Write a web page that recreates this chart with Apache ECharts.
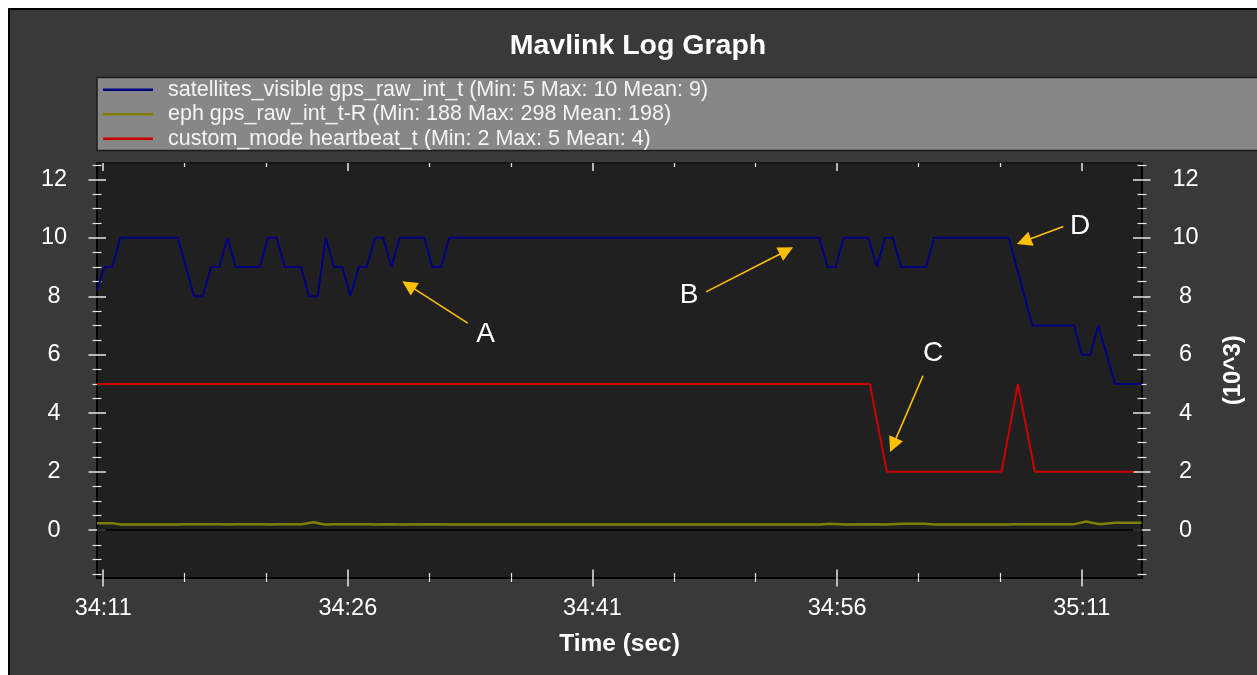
<!DOCTYPE html>
<html><head><meta charset="utf-8">
<script src="https://cdn.jsdelivr.net/npm/echarts@6/dist/echarts.min.js"></script>
<style>html,body{margin:0;padding:0;background:#fff;}#c{width:1257px;height:675px;}</style>
</head><body><div id="c"></div>
<script>
// ---------- data ----------
const chartTitle = 'Mavlink Log Graph';
const startClock = 34 * 60 + 11;            // 34:11, x = seconds after this
const xMajorTicks = [0, 15, 30, 45, 60];
const xMinorTicks = [5, 10, 20, 25, 35, 40, 50, 55];
const yMajorTicks = [0, 2, 4, 6, 8, 10, 12];
const yMinorTicks = [-1.5, -1, -0.5, 0.5, 1, 1.5, 2.5, 3, 3.5, 4.5, 5, 5.5, 6.5, 7, 7.5, 8.5, 9, 9.5, 10.5, 11, 11.5, 12.5];
const ephTicks = [0, 2000, 4000, 6000, 8000, 10000, 12000];

const seriesNames = [
  'satellites_visible gps_raw_int_t (Min: 5 Max: 10 Mean: 9)',
  'eph gps_raw_int_t-R (Min: 188 Max: 298 Mean: 198)',
  'custom_mode heartbeat_t (Min: 2 Max: 5 Mean: 4)'
];

const satTime = [-0.38, 0.07, 0.56, 1.05, 4.57, 5.57, 6.10, 6.61, 7.12, 7.63, 8.12, 9.61, 10.10, 10.64, 11.13, 12.13, 12.62, 13.15, 13.64, 14.15, 14.66, 15.15, 15.68, 16.15, 16.66, 17.17, 17.66, 18.18, 19.69, 20.18, 20.71, 21.22, 43.91, 44.40, 44.90, 45.40, 46.91, 47.44, 47.93, 48.42, 48.91, 50.45, 50.94, 55.52, 56.97, 59.52, 60.01, 60.52, 61.01, 62.04, 63.67];
const satValue = [8.2, 9, 9, 10, 10, 8, 8, 9, 9, 10, 9, 9, 10, 10, 9, 9, 8, 8, 10, 9, 9, 8, 9, 9, 10, 10, 9, 10, 10, 9, 9, 10, 10, 9, 9, 10, 10, 9, 10, 10, 9, 9, 10, 10, 7, 7, 6, 6, 7, 5, 5];

const ephTime = [-0.38, 0.56, 1.06, 4.62, 5.10, 7.09, 7.68, 8.14, 9.60, 10.21, 11.08, 12.18, 12.88, 13.59, 14.18, 16.13, 16.71, 17.52, 18.23, 20.34, 21.21, 43.98, 44.57, 45.41, 47.31, 48.02, 48.97, 50.40, 50.99, 55.51, 55.99, 59.55, 60.26, 61.09, 62.01, 63.66];
const ephValue = [240, 240, 190, 190, 205, 205, 190, 205, 205, 190, 205, 205, 270, 190, 205, 205, 190, 200, 190, 205, 190, 190, 215, 190, 205, 190, 215, 215, 190, 190, 205, 205, 298, 205, 250, 250];

const modeTime = [-0.38, 47.01, 48.04, 55.08, 56.08, 57.12, 63.18];
const modeValue = [5, 5, 2, 2, 5, 2, 2];

const annoLabels = ['A', 'B', 'C', 'D'];
const annoTextAt = [[23.45, 6.70], [35.92, 8.02], [50.88, 6.06], [59.89, 10.41]];
const arrowFrom = [[22.35, 7.08], [36.96, 8.15], [50.26, 5.28], [58.87, 10.39]];
const arrowTo = [[18.72, 8.38], [41.89, 9.56], [48.43, 2.91], [56.45, 9.88]];

// ---------- chart ----------
const FONT = "'Liberation Sans', Arial, Helvetica, sans-serif";
const X_MIN = -0.38, X_MAX = 63.69, Y_MIN = -1.62, Y_MAX = 12.56;
const zip = (a, b) => a.map((v, i) => [v, b[i]]);
const fmtTime = v => { const t = startClock + Math.round(v); return Math.floor(t / 60) + ':' + String(t % 60).padStart(2, '0'); };
const TICK = '#e6e6e6';

function tickAxis(base, pos, inside, len, ticks, width) {
  return Object.assign({
    type: 'value', gridIndex: 0, position: pos,
    axisLine: { show: false, onZero: false }, splitLine: { show: false }, axisLabel: { show: false },
    axisTick: { show: true, inside: inside, length: len, customValues: ticks, lineStyle: { color: TICK, width: width } }
  }, base);
}
const xb = { min: X_MIN, max: X_MAX };
const yb = { min: Y_MIN, max: Y_MAX };

const xAxes = [
  Object.assign(tickAxis(xb, 'bottom', false, 9, xMajorTicks, 1.5), {
    axisLine: { show: true, onZero: false, lineStyle: { color: '#000', width: 2 } },
    axisLabel: { show: true, customValues: xMajorTicks, formatter: fmtTime, color: '#fff', fontSize: 23.5, fontFamily: FONT, margin: 19 },
    name: 'Time (sec)', nameLocation: 'middle', nameGap: 54,
    nameTextStyle: { color: '#fff', fontSize: 24.5, fontWeight: 'bold', fontFamily: FONT }
  }),
  tickAxis(xb, 'bottom', true, 8, xMajorTicks, 1.5),
  tickAxis(xb, 'bottom', false, 4.5, xMinorTicks, 1.2),
  tickAxis(xb, 'bottom', true, 4.5, xMinorTicks, 1.2),
  Object.assign(tickAxis(xb, 'top', true, 8, xMajorTicks, 1.5), {
    axisLine: { show: true, onZero: false, lineStyle: { color: '#151515', width: 2 } }
  }),
  tickAxis(xb, 'top', true, 4, xMinorTicks, 1.2)
];

const yAxes = [
  Object.assign(tickAxis(yb, 'left', false, 8.5, yMajorTicks, 1.5), {
    axisLine: { show: true, onZero: false, lineStyle: { color: '#000', width: 2 } },
    axisLabel: { show: true, customValues: yMajorTicks, color: '#fff', fontSize: 23.5, fontFamily: FONT, align: 'center', margin: 43 }
  }),
  tickAxis(yb, 'left', true, 9, yMajorTicks, 1.5),
  tickAxis(yb, 'left', false, 4.5, yMinorTicks, 1.2),
  tickAxis(yb, 'left', true, 4.5, yMinorTicks, 1.2),
  Object.assign(tickAxis({ min: Y_MIN * 1000, max: Y_MAX * 1000 }, 'right', false, 8.5, ephTicks, 1.5), {
    axisLine: { show: true, onZero: false, lineStyle: { color: '#000', width: 2 } },
    axisLabel: { show: true, customValues: ephTicks, formatter: v => String(v / 1000), color: '#fff', fontSize: 23.5, fontFamily: FONT, align: 'center', margin: 43.5 },
    name: '(10^3)', nameLocation: 'middle', nameRotate: 90, nameGap: 79,
    nameTextStyle: { color: '#fff', fontSize: 24, fontWeight: 'bold', fontFamily: FONT }
  }),
  tickAxis(yb, 'right', true, 9, yMajorTicks, 1.5),
  tickAxis(yb, 'right', false, 4.5, yMinorTicks, 1.2),
  tickAxis(yb, 'right', true, 4.5, yMinorTicks, 1.2)
];

const chart = echarts.init(document.getElementById('c'));
chart.setOption({
  backgroundColor: '#ffffff',
  animation: false,
  textStyle: { fontFamily: FONT },
  graphic: [
    { type: 'rect', z: -100, silent: true, shape: { x: 9, y: 9, width: 1300, height: 700 }, style: { fill: '#393939', stroke: '#000', lineWidth: 2 } },
    { type: 'rect', z: 1, silent: true, shape: { x: 97, y: 77.5, width: 1200, height: 73 }, style: { fill: '#878787', stroke: '#1c1c1c', lineWidth: 1.5 } },
    { type: 'text', z: 5, silent: true, x: 638, y: 46, style: { text: chartTitle, fill: '#fff', fontSize: 28.5, fontWeight: 'bold', fontFamily: FONT, align: 'center', verticalAlign: 'middle' } }
  ],
  grid: { left: 97, right: 115, top: 163, bottom: 97.5, show: true, backgroundColor: '#202020', borderWidth: 0, containLabel: false, outerBoundsMode: 'none' },
  legend: {
    data: seriesNames, orient: 'vertical', left: 103, top: 77.7, padding: 0,
    icon: 'rect', itemWidth: 50, itemHeight: 2.5, itemGap: 0.5,
    textStyle: { color: '#f4f4f4', fontSize: 21.5, fontFamily: FONT, lineHeight: 24, padding: [0, 0, 0, 10] },
    selectedMode: false
  },
  xAxis: xAxes,
  yAxis: yAxes,
  series: [
    {
      name: seriesNames[0], type: 'line', xAxisIndex: 0, yAxisIndex: 0, symbol: 'none', showSymbol: false,
      data: zip(satTime, satValue), color: '#000080', lineStyle: { color: '#000080', width: 2 }, z: 3,
      markLine: { silent: true, symbol: ['none', 'none'], label: { show: false }, lineStyle: { color: '#000', width: 1.5, type: 'solid' },
        data: [[{ coord: [X_MIN, 0] }, { coord: [X_MAX, 0] }]] }
    },
    {
      name: seriesNames[1], type: 'line', xAxisIndex: 0, yAxisIndex: 4, symbol: 'none', showSymbol: false,
      data: zip(ephTime, ephValue), color: '#808000', lineStyle: { color: '#808000', width: 2.5 }, z: 3
    },
    {
      name: seriesNames[2], type: 'line', xAxisIndex: 0, yAxisIndex: 0, symbol: 'none', showSymbol: false,
      data: zip(modeTime, modeValue), color: '#cc0000', lineStyle: { color: '#cc0000', width: 2 }, z: 3
    },
    {
      name: 'annotations', type: 'scatter', xAxisIndex: 0, yAxisIndex: 0, symbolSize: 0, silent: true, z: 6,
      itemStyle: { opacity: 1, color: '#ffffff' },
      data: annoLabels.map((t, i) => ({ name: t, value: annoTextAt[i] })),
      label: { show: true, position: 'inside', formatter: p => p.name, color: '#ffffff', opacity: 1, textBorderWidth: 0, fontSize: 28, fontFamily: FONT },
      markLine: {
        silent: true, symbol: ['none', 'triangle'], symbolSize: 15, label: { show: false },
        lineStyle: { color: '#ffc000', width: 1.6, type: 'solid', opacity: 1 },
        itemStyle: { color: '#ffc000', opacity: 1 },
        data: arrowFrom.map((f, i) => [{ coord: f }, { coord: arrowTo[i] }])
      }
    }
  ]
});
</script></body></html>
